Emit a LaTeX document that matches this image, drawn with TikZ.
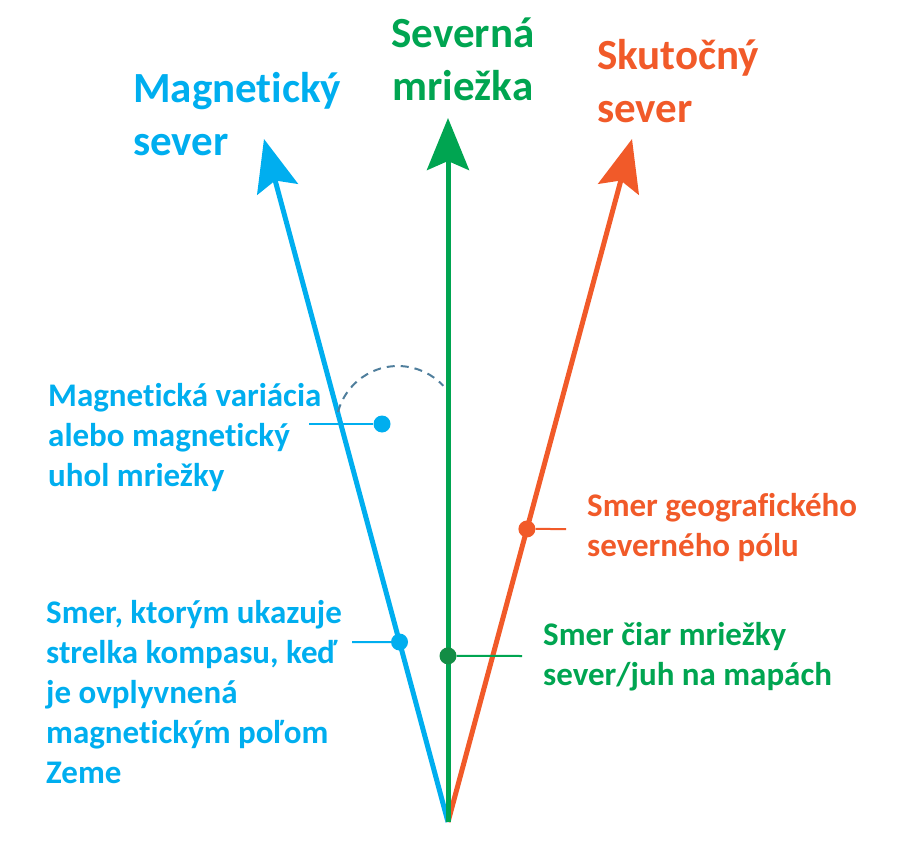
\documentclass[tikz,border=0pt]{standalone}
\usepackage{fontspec}
\setmainfont[RawFeature={-liga;-clig;-calt}]{Carlito}
\usetikzlibrary{arrows.meta}
\definecolor{magblue}{HTML}{00AEEF}
\definecolor{gridgreen}{HTML}{00A551}
\definecolor{truered}{HTML}{F15A29}
\definecolor{dotgreen}{HTML}{138D45}
\definecolor{arcgray}{HTML}{4F7E9C}
\tikzset{
  dirline/.style={line width=5pt, -{Stealth[length=52pt,width=42pt,inset=9pt]}},
  headtxt/.style={font=\bfseries\fontsize{43}{53}\selectfont, inner sep=0pt},
  lbl/.style={font=\bfseries\fontsize{33}{40}\selectfont, align=left, inner sep=0pt, anchor=west},
  dot/.style={circle, fill, inner sep=0pt, minimum size=17pt},
  lead/.style={line width=2pt}
}
\begin{document}
\begin{tikzpicture}[x=1pt,y=-1pt]
	\useasboundingbox (0,0) rectangle (918,842);
	% the three north directions
	\coordinate (o) at (448,822);
	\coordinate (mag) at (264,139);
	\coordinate (grid) at (448,118);
	\coordinate (true) at (632,139);
	\draw[dirline, magblue] (o) -- (mag);
	\draw[dirline, truered] (o) -- (true);
	\draw[dirline, gridgreen] (o) -- (grid);
	% titles
	\node[headtxt, align=left, anchor=west, magblue] (magt) at (133,114) {Magnetický\\sever};
	\node[headtxt, align=center, gridgreen] (gridt) at (463,59) {Severná\\mriežka};
	\node[headtxt, align=left, anchor=west, truered] (truet) at (597,81) {Skutočný\\sever};
	% angle between magnetic and grid north
	\draw[arcgray, line width=2pt, dash pattern=on 8pt off 6pt] (338,412) arc[start angle=195, end angle=317, radius=62];
	\node[dot, magblue] (vard) at (382,424) {};
	\coordinate (varl) at (309,424);
	\draw[lead, magblue] (varl) -- (vard);
	\node[lbl, magblue] (vart) at (48,438) {Magnetická variácia\\alebo magnetický\\uhol mriežky};
	% points on the lines
	\path (o) -- (mag) node[dot, magblue, pos=0.2635] (magd) {};
	\path (o) -- (grid) node[dot, dotgreen, pos=0.236] (gridd) {};
	\path (o) -- (true) node[dot, truered, pos=0.429] (trued) {};
	\coordinate (magl) at (352,642);
	\coordinate (gridl) at (522,656);
	\coordinate (truel) at (566,529);
	\draw[lead, magblue] (magl) -- (magd);
	\draw[lead, gridgreen] (gridd) -- (gridl);
	\draw[lead, truered] (trued) -- (truel);
	\node[lbl, magblue] (magtx) at (46,692) {Smer, ktorým ukazuje\\strelka kompasu, keď\\je ovplyvnená\\magnetickým poľom\\Zeme};
	\node[lbl, truered] (truetx) at (587,528) {Smer geografického\\severného pólu};
	\node[lbl, gridgreen] (gridtx) at (543,657) {Smer čiar mriežky\\sever/juh na mapách};
\end{tikzpicture}
\end{document}
